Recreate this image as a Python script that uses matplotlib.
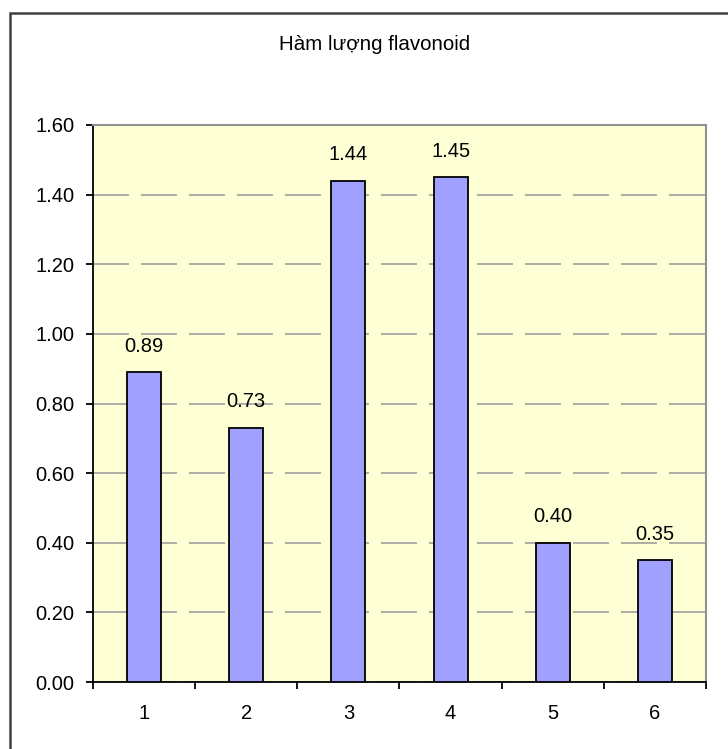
import matplotlib
matplotlib.use("Agg")
import matplotlib.pyplot as plt
from matplotlib.patches import Rectangle

# Flavonoid content per sample
categories = ["1", "2", "3", "4", "5", "6"]
values = [0.89, 0.73, 1.44, 1.45, 0.40, 0.35]
yticks = [0.0, 0.2, 0.4, 0.6, 0.8, 1.0, 1.2, 1.4, 1.6]
title = "Hàm lượng flavonoid"

plt.rcParams['font.family'] = ['Liberation Sans', 'DejaVu Sans']

W, H = 728, 749
fig = plt.figure(figsize=(W / 100, H / 100), dpi=100)
fig.patch.set_facecolor("white")

# Chart frame (extends past the right and bottom edges)
fig.patches.append(Rectangle((10 / W, -0.05), 1.1, 1 - 13 / H + 0.05,
                             transform=fig.transFigure, fill=False,
                             edgecolor="#404040", linewidth=1.8))

left, right, top, bottom = 93, 706, 125, 682
ax = fig.add_axes([left / W, 1 - bottom / H, (right - left) / W, (bottom - top) / H])
ax.set_facecolor("#FFFFD5")

x = list(range(len(categories)))
ax.bar(x, values, width=1 / 3, color="#A0A0FF", edgecolor="black",
       linewidth=1.3, zorder=3)

fs = 14.5
for xi, v in zip(x, values):
    ax.annotate(f"{v:.2f}", (xi, v), xytext=(0, 26), textcoords="offset pixels",
                ha="center", va="center", fontsize=fs, color="black", zorder=4)

ax.set_xlim(-0.5, len(categories) - 0.5)
ax.set_ylim(0, 1.6)
ax.set_yticks(yticks)
ax.set_yticklabels([f"{t:.2f}" for t in yticks])
ax.set_xticks(x)
ax.set_xticklabels(categories)
ax.set_xticks([i - 0.5 for i in range(len(categories) + 1)], minor=True)

ax.tick_params(axis="y", direction="out", length=5, width=1.3, pad=8.5,
               labelsize=fs, colors="black")
ax.tick_params(axis="x", which="major", length=0, pad=16, labelsize=fs)
ax.tick_params(axis="x", which="minor", direction="out", length=5, width=1.3)

ax.yaxis.grid(True, color="#A0A0A0", linewidth=1.2,
              linestyle=(0, (21.6, 7.2)), zorder=1)
ax.set_axisbelow(True)

for side in ("left", "bottom"):
    ax.spines[side].set_color("black")
    ax.spines[side].set_linewidth(1.3)
for side in ("top", "right"):
    ax.spines[side].set_color("#909090")
    ax.spines[side].set_linewidth(1.5)

fig.text(375 / W, 1 - 45 / H, title, ha="center", va="center", fontsize=14.8, color="black")

fig.savefig("out.png", dpi=100)
